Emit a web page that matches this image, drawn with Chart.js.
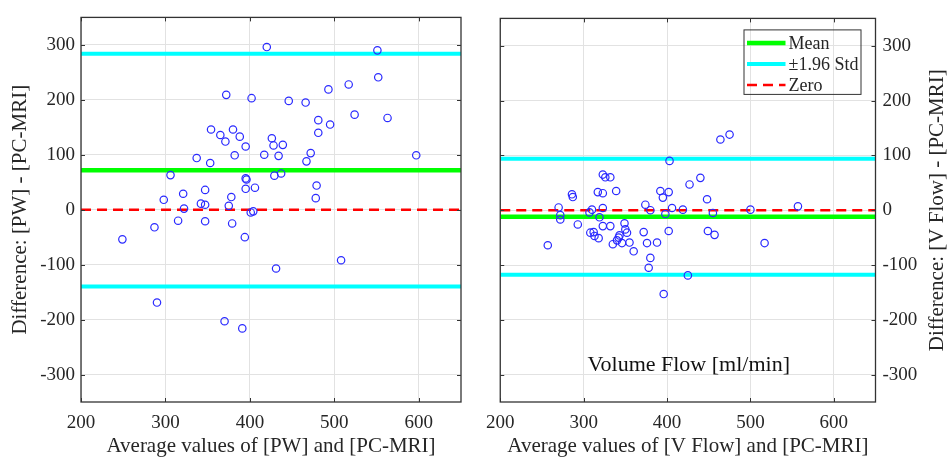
<!DOCTYPE html>
<html>
<head>
<meta charset="utf-8">
<title>Bland-Altman</title>
<script src="https://cdn.jsdelivr.net/npm/chart.js@4.4.1/dist/chart.umd.min.js"></script>
<style>
  html, body { margin: 0; padding: 0; background: #fff; }
  #wrap { position: relative; width: 952px; height: 459px; overflow: hidden; }
  canvas { position: absolute; top: 0; }
  #pwChart { left: 0; }
  #vfChart { left: 476px; }
</style>
</head>
<body>
<div id="wrap">
  <canvas id="pwChart" width="476" height="459" style="width:476px;height:459px"></canvas>
  <canvas id="vfChart" width="476" height="459" style="width:476px;height:459px"></canvas>
</div>
<script>
// axis ticks shared by both panels
const xTicks = [200, 300, 400, 500, 600];
const yTicks = [-300, -200, -100, 0, 100, 200, 300];

// PW vs PC-MRI: average (x) and difference (y)
const pwAvg = [420, 551, 552, 517, 493, 372, 402, 446, 466, 524, 563, 481, 495, 354, 380, 481,
  365, 388, 426, 371, 439, 428, 395, 597, 382, 417, 434, 472, 337, 467, 353, 306, 429, 437,
  395, 396, 479, 395, 406, 347, 478, 378, 321, 298, 342, 347, 375, 322, 401, 404, 249, 287,
  315, 347, 379, 394, 431, 508, 290, 370, 391];
const pwDiff = [296, 290, 241, 228, 219, 209, 203, 198, 195, 173, 167, 163, 155, 146, 146, 140,
  136, 133, 130, 124, 118, 117, 115, 99, 99, 100, 98, 103, 94, 88, 85, 63, 62, 66,
  57, 55, 44, 38, 40, 36, 21, 23, 29, 18, 11, 9, 7, 2, -5, -3, -54, -32,
  -20, -21, -25, -50, -107, -92, -169, -203, -216];
const pwMean = 72;
const pwUpper = 284;
const pwLower = -140;

// V Flow vs PC-MRI
const vfAvg = [464, 475, 403, 323, 326, 332, 440, 427, 286, 287, 317, 323, 339, 392, 402, 395,
  448, 270, 323, 374, 557, 500, 406, 419, 310, 307, 380, 272, 272, 319, 398, 455, 293, 323,
  332, 349, 350, 352, 308, 312, 313, 318, 343, 342, 340, 335, 346, 355, 360, 372, 376, 388,
  402, 380, 378, 425, 396, 449, 457, 517, 257];
const vfDiff = [129, 138, 90, 65, 60, 60, 59, 47, 29, 24, 33, 31, 35, 35, 33, 23,
  20, 5, 4, 10, 7, 1, 4, 1, 1, -4, 0, -9, -17, -13, -7, -5, -26, -29,
  -29, -24, -35, -41, -41, -40, -47, -51, -46, -50, -55, -62, -60, -59, -75, -40, -60, -59,
  -38, -87, -105, -119, -153, -38, -45, -60, -64];
const vfMean = -12;
const vfUpper = 94;
const vfLower = -118;

const SERIF = '"Liberation Serif", "Times New Roman", serif';
const INK = '#262626';
const GREEN = '#00ff00';
const CYAN = '#00ffff';
const RED = '#ff0000';
const ZERO_DASH = [10, 6];

function toPoints(xs, ys) {
  return xs.map((x, i) => ({ x: x, y: ys[i] }));
}

// horizontal reference line across the whole x range
function hLine(y) {
  return [{ x: 200, y: y }, { x: 650, y: y }];
}

function refLine(label, y, color, width, dash) {
  return {
    label: label,
    data: hLine(y),
    showLine: true,
    borderColor: color,
    borderWidth: width,
    borderDash: dash || [],
    pointRadius: 0,
    pointHoverRadius: 0
  };
}

function buildDatasets(xs, ys, mean, upper, lower) {
  // first dataset is painted last, so the circles sit on top
  return [
    {
      label: 'Data',
      data: toPoints(xs, ys),
      pointStyle: 'circle',
      pointRadius: 3.7,
      pointHoverRadius: 3.7,
      pointBorderWidth: 1.2,
      borderColor: '#2a2aff',
      backgroundColor: 'rgba(0,0,0,0)'
    },
    refLine('Zero', 0, RED, 2.4, ZERO_DASH),
    refLine('+1.96 Std', upper, CYAN, 4),
    refLine('-1.96 Std', lower, CYAN, 4),
    refLine('Mean', mean, GREEN, 4.5)
  ];
}

// box around the plot area with small inward ticks on every side
const framePlugin = {
  id: 'frame',
  afterDatasetsDraw(chart) {
    const { ctx, chartArea: a, scales: { x, y } } = chart;
    ctx.save();
    ctx.strokeStyle = '#333';
    ctx.lineWidth = 1;
    ctx.beginPath();
    x.ticks.forEach(t => {
      const px = Math.round(x.getPixelForValue(t.value)) + 0.5;
      ctx.moveTo(px, a.bottom); ctx.lineTo(px, a.bottom - 4);
      ctx.moveTo(px, a.top); ctx.lineTo(px, a.top + 4);
    });
    y.ticks.forEach(t => {
      const py = Math.round(y.getPixelForValue(t.value)) + 0.5;
      ctx.moveTo(a.left, py); ctx.lineTo(a.left + 4, py);
      ctx.moveTo(a.right, py); ctx.lineTo(a.right - 4, py);
    });
    ctx.stroke();
    ctx.lineWidth = 1.3;
    ctx.strokeRect(a.left, a.top, a.right - a.left, a.bottom - a.top);
    ctx.restore();
  }
};

// legend box, inner caption and the right-hand axis title of the V Flow panel
const vfExtras = {
  id: 'vfExtras',
  afterDraw(chart) {
    const { ctx, chartArea: a, scales: { x, y } } = chart;
    ctx.save();

    // legend has no fill, the grid shows through it
    const bw = 117, bh = 64.5;
    const bx = a.right - 15 - bw;
    const by = a.top + 11;
    ctx.strokeStyle = '#333';
    ctx.lineWidth = 1;
    ctx.strokeRect(bx + 0.5, by + 0.5, bw, bh);

    const rows = [
      { text: 'Mean', color: GREEN, width: 4.5, dash: [] },
      { text: '\u00b11.96 Std', color: CYAN, width: 4, dash: [] },
      { text: 'Zero', color: RED, width: 2.4, dash: ZERO_DASH }
    ];
    ctx.font = '18px ' + SERIF;
    ctx.textBaseline = 'middle';
    ctx.textAlign = 'left';
    rows.forEach((r, i) => {
      const ry = by + 13.6 + i * 21;
      ctx.beginPath();
      ctx.strokeStyle = r.color;
      ctx.lineWidth = r.width;
      ctx.setLineDash(r.dash);
      ctx.moveTo(bx + 3.5, ry);
      ctx.lineTo(bx + 42, ry);
      ctx.stroke();
      ctx.setLineDash([]);
      ctx.fillStyle = INK;
      ctx.fillText(r.text, bx + 45, ry + 1);
    });

    ctx.font = '22px ' + SERIF;
    ctx.fillStyle = '#111';
    ctx.textAlign = 'center';
    ctx.fillText('Volume Flow [ml/min]', x.getPixelForValue(426), y.getPixelForValue(-283));

    ctx.font = '21px ' + SERIF;
    ctx.fillStyle = INK;
    ctx.translate(chart.width - 15, (a.top + a.bottom) / 2);
    ctx.rotate(-Math.PI / 2);
    ctx.fillText('Difference: [V Flow] - [PC-MRI]', 0, 0);
    ctx.restore();
  }
};

function makeOptions(xTitle, yTitle, yPos, padding, yWidth, tickPad) {
  return {
    responsive: false,
    animation: false,
    events: [],
    layout: { padding: padding },
    plugins: { legend: { display: false }, tooltip: { enabled: false } },
    scales: {
      x: {
        type: 'linear',
        min: 200,
        max: 650,
        afterBuildTicks: s => { s.ticks = xTicks.map(v => ({ value: v })); },
        afterFit: s => { s.height = 57; },
        grid: { color: '#e2e2e2', drawTicks: false },
        border: { display: false },
        ticks: { font: { family: SERIF, size: 19 }, color: INK, padding: 10, maxRotation: 0 },
        title: {
          display: true,
          text: xTitle,
          font: { family: SERIF, size: 21 },
          color: INK,
          padding: { top: 0, bottom: 0 }
        }
      },
      y: {
        type: 'linear',
        position: yPos,
        min: -350,
        max: 350,
        afterBuildTicks: s => { s.ticks = yTicks.map(v => ({ value: v })); },
        afterFit: s => { s.width = yWidth; },
        grid: { color: '#e2e2e2', drawTicks: false },
        border: { display: false },
        ticks: { font: { family: SERIF, size: 19 }, color: INK, padding: tickPad },
        title: {
          display: yTitle !== '',
          text: yTitle,
          font: { family: SERIF, size: 21 },
          color: INK,
          padding: { top: 8, bottom: 0 }
        }
      }
    }
  };
}

new Chart(document.getElementById('pwChart'), {
  type: 'scatter',
  data: { datasets: buildDatasets(pwAvg, pwDiff, pwMean, pwUpper, pwLower) },
  options: makeOptions('Average values of [PW] and [PC-MRI]', 'Difference: [PW] - [PC-MRI]',
    'left', { top: 14, right: 15, left: 0, bottom: 0 }, 81, 6),
  plugins: [framePlugin]
});

new Chart(document.getElementById('vfChart'), {
  type: 'scatter',
  data: { datasets: buildDatasets(vfAvg, vfDiff, vfMean, vfUpper, vfLower) },
  options: makeOptions('Average values of [V Flow] and [PC-MRI]', '',
    'right', { top: 14, right: 0, left: 19.5, bottom: 0 }, 76.5, 7),
  plugins: [framePlugin, vfExtras]
});
</script>
</body>
</html>
